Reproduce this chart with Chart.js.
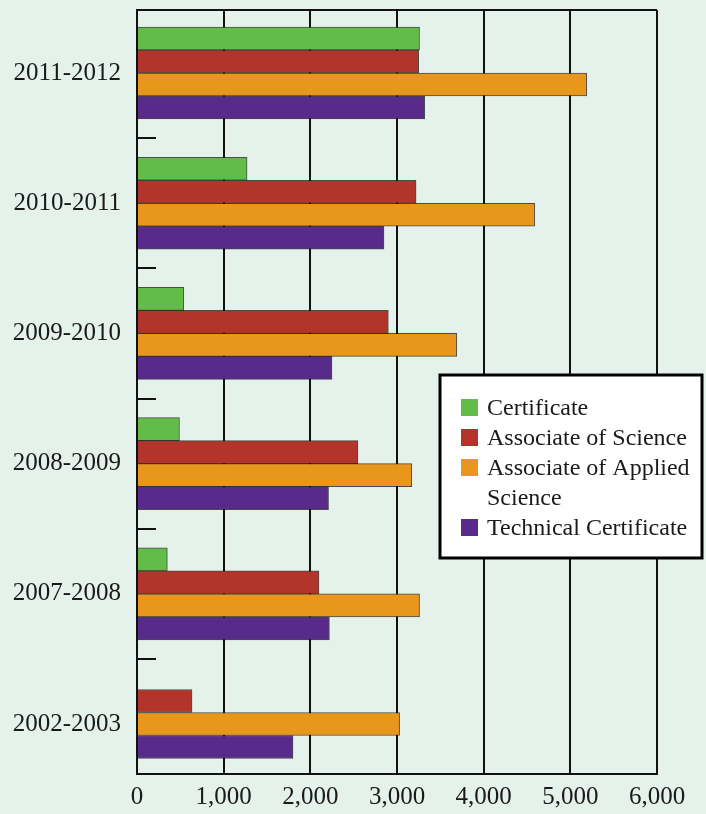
<!DOCTYPE html>
<html lang="en">
<head>
<meta charset="UTF-8" />
<title>Degrees and Certificates Awarded</title>
<style>
  body {
    margin: 0;
    background-color: #e5f2eb;
  }
  #wrap {
    width: 706px;
    height: 814px;
  }
</style>
</head>
<body>
  <div id="wrap">
    <canvas id="awardsChart" width="706" height="814"></canvas>
  </div>

  <script src="https://cdn.jsdelivr.net/npm/chart.js"></script>
  <script>
    // Academic years, top to bottom
    const years = ['2011-2012', '2010-2011', '2009-2010', '2008-2009', '2007-2008', '2002-2003'];

    // Awards per year
    const certificate = [3260, 1270, 540, 490, 350, null];
    const associateScience = [3250, 3220, 2900, 2550, 2100, 635];
    const associateApplied = [5190, 4590, 3690, 3170, 3260, 3030];
    const technicalCert = [3320, 2850, 2250, 2210, 2220, 1800];

    const seriesNames = ['Certificate', 'Associate of Science', 'Associate of Applied Science', 'Technical Certificate'];
    const seriesColors = ['#63bc48', '#b2342b', '#e8961c', '#582a89'];

    const xTicks = [0, 1000, 2000, 3000, 4000, 5000, 6000];

    const textColor = '#1a1a1a';
    const serif = "'Liberation Serif', 'Times New Roman', serif";

    // y runs on a linear index scale so the category rows keep the
    // original spacing (last row is cut short by the axis)
    function toPoints(values) {
      return values.map((v, i) => ({ x: v, y: i }));
    }

    const allSeries = [certificate, associateScience, associateApplied, technicalCert];

    // top edge of the plot frame
    const framePlugin = {
      id: 'frame',
      beforeDatasetsDraw(chart) {
        const { ctx, chartArea } = chart;
        ctx.save();
        ctx.strokeStyle = '#111';
        ctx.lineWidth = 2;
        ctx.beginPath();
        ctx.moveTo(chartArea.left, chartArea.top);
        ctx.lineTo(chartArea.right, chartArea.top);
        ctx.stroke();
        ctx.restore();
      }
    };

    function wrapWords(ctx, text, maxWidth) {
      const words = text.split(' ');
      const lines = [];
      let line = '';
      words.forEach(word => {
        const test = line ? line + ' ' + word : word;
        if (ctx.measureText(test).width > maxWidth && line) {
          lines.push(line);
          line = word;
        } else {
          line = test;
        }
      });
      lines.push(line);
      return lines;
    }

    // boxed legend sitting inside the plot
    const legendPlugin = {
      id: 'boxLegend',
      afterDraw(chart) {
        const ctx = chart.ctx;
        const boxX = 440, boxY = 375, boxW = 262, boxH = 183;
        ctx.save();
        ctx.fillStyle = '#ffffff';
        ctx.fillRect(boxX, boxY, boxW, boxH);
        ctx.strokeStyle = '#000';
        ctx.lineWidth = 3;
        ctx.strokeRect(boxX, boxY, boxW, boxH);

        ctx.font = '24px ' + serif;
        ctx.textBaseline = 'middle';
        ctx.textAlign = 'left';
        let rowY = 408;
        const lineH = 30;
        chart.data.datasets.forEach(ds => {
          ctx.fillStyle = ds.backgroundColor;
          ctx.fillRect(461, rowY - 9, 17, 17);
          ctx.fillStyle = textColor;
          const lines = wrapWords(ctx, ds.label, 212);
          lines.forEach(line => {
            ctx.fillText(line, 487, rowY + 1);
            rowY += lineH;
          });
        });
        ctx.restore();
      }
    };

    const ctx = document.getElementById('awardsChart').getContext('2d');

    new Chart(ctx, {
      type: 'bar',
      data: {
        datasets: allSeries.map((values, i) => ({
          label: seriesNames[i],
          data: toPoints(values),
          backgroundColor: seriesColors[i],
          borderColor: 'rgba(20, 20, 20, 0.75)',
          borderWidth: 1,
          barThickness: 23,
          skipNull: true
        }))
      },
      options: {
        indexAxis: 'y',
        responsive: false,
        animation: false,
        layout: {
          padding: { top: 10, right: 49, bottom: 0, left: 0 }
        },
        plugins: {
          legend: { display: false },
          tooltip: { enabled: false }
        },
        scales: {
          x: {
            type: 'linear',
            min: 0,
            max: 6000,
            afterBuildTicks: scale => {
              scale.ticks = xTicks.map(v => ({ value: v }));
            },
            afterFit: scale => {
              scale.height = 40;
              scale.paddingLeft = 0;
              scale.paddingRight = 0;
            },
            grid: {
              color: '#111',
              lineWidth: 2,
              drawTicks: false
            },
            border: { color: '#111', width: 2 },
            ticks: {
              padding: 8,
              color: textColor,
              font: { family: serif, size: 25 },
              callback: v => v.toLocaleString('en-US')
            }
          },
          y: {
            type: 'linear',
            reverse: true,
            offset: false,
            bounds: 'data',
            min: -0.484,
            max: 5.384,
            afterBuildTicks: scale => {
              scale.ticks = years.map((y, i) => ({ value: i }));
            },
            afterFit: scale => {
              scale.width = 137;
              scale.paddingTop = 0;
              scale.paddingBottom = 0;
            },
            grid: {
              offset: true,
              drawOnChartArea: false,
              drawTicks: true,
              tickLength: -19,
              color: '#111',
              lineWidth: 2
            },
            border: { color: '#111', width: 2 },
            ticks: {
              padding: 35,
              autoSkip: false,
              color: textColor,
              font: { family: serif, size: 25 },
              callback: v => years[v]
            }
          }
        }
      },
      plugins: [framePlugin, legendPlugin]
    });
  </script>
</body>
</html>
